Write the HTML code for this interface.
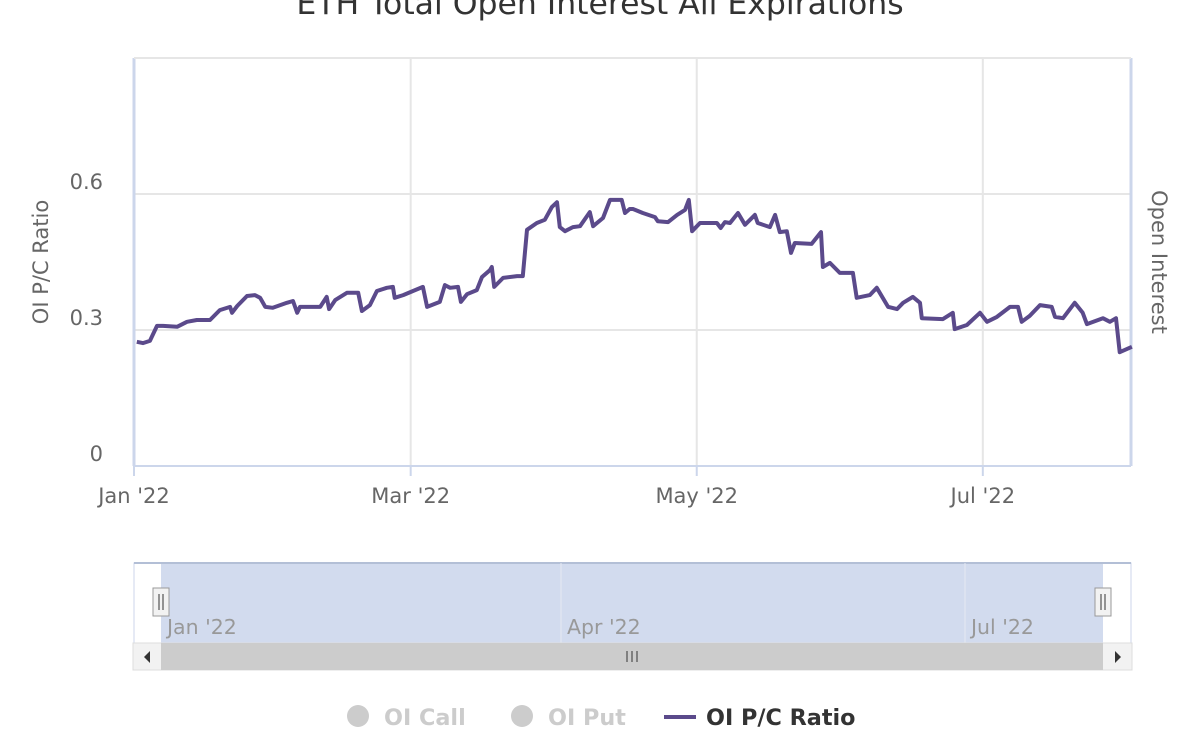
<!DOCTYPE html>
<html><head><meta charset="utf-8"><style>
body{margin:0;background:#fff;font-family:"DejaVu Sans","Liberation Sans",sans-serif;}
svg{display:block}
text{font-family:"DejaVu Sans","Liberation Sans",sans-serif;}
</style></head><body>
<svg width="1200" height="740" viewBox="0 0 1200 740">
<text x="600" y="14" text-anchor="middle" font-size="31.5" fill="#333">ETH Total Open Interest All Expirations</text>
<g id="grid"></g>
<g id="series"></g>
<text transform="translate(48,262) rotate(-90)" text-anchor="middle" font-size="21" fill="#666">OI P/C Ratio</text>
<text transform="translate(1152,262) rotate(90)" text-anchor="middle" font-size="21" fill="#666">Open Interest</text>
<g>
<rect x="134" y="563" width="997" height="80" fill="#fff" stroke="#ccd6eb"/>
<rect x="161" y="563" width="942" height="80" fill="#d2dbee"/>
<line x1="134" y1="563" x2="1131" y2="563" stroke="#b3bfd6" stroke-width="2"/>
<line x1="561" y1="563" x2="561" y2="643" stroke="#e6eaf2"/>
<line x1="965" y1="563" x2="965" y2="643" stroke="#e6eaf2"/>
<text x="167" y="634" font-size="20.5" fill="#999">Jan '22</text>
<text x="567" y="634" font-size="20.5" fill="#999">Apr '22</text>
<text x="971" y="634" font-size="20.5" fill="#999">Jul '22</text>
<g><rect x="153" y="588" width="16" height="28" fill="#f2f2f2" stroke="#999"/><line x1="159" y1="594" x2="159" y2="610" stroke="#333"/><line x1="163" y1="594" x2="163" y2="610" stroke="#333"/></g>
<g><rect x="1095" y="588" width="16" height="28" fill="#f2f2f2" stroke="#999"/><line x1="1101" y1="594" x2="1101" y2="610" stroke="#333"/><line x1="1105" y1="594" x2="1105" y2="610" stroke="#333"/></g>
</g>
<g>
<rect x="133" y="643" width="999" height="27" fill="#f2f2f2" stroke="#ddd"/>
<rect x="161" y="643" width="942" height="27" fill="#cccccc"/>
<path d="M150 651 L150 663 L144 657 Z" fill="#333"/>
<path d="M1115 651 L1115 663 L1121 657 Z" fill="#333"/>
<line x1="627" y1="651" x2="627" y2="662" stroke="#333"/><line x1="632" y1="651" x2="632" y2="662" stroke="#333"/><line x1="637" y1="651" x2="637" y2="662" stroke="#333"/>
</g>
<g>
<g><circle cx="358" cy="716" r="11" fill="#ccc"/><text x="384" y="725" font-size="22.3" font-weight="bold" fill="#ccc">OI Call</text></g>
<g><circle cx="522" cy="716" r="11" fill="#ccc"/><text x="548" y="725" font-size="22.3" font-weight="bold" fill="#ccc">OI Put</text></g>
<g><line x1="664" y1="717" x2="696" y2="717" stroke="#5b4a8b" stroke-width="4"/><text x="706" y="725" font-size="22.3" font-weight="bold" fill="#333">OI P/C Ratio</text></g>
</g>
</svg>
<script>
const days=[0.6,1.9,3.4,4.9,6.2,9.2,11.3,13.4,16.2,18.3,20.5,20.9,22.0,24.1,25.8,26.9,28.0,29.6,32.6,33.9,34.8,35.4,39.7,41.1,41.6,42.9,45.4,47.8,48.6,50.3,51.8,53.9,55.2,55.6,57.4,59.5,61.6,62.5,65.2,66.3,67.4,69.1,69.7,71.0,73.1,74.2,75.9,76.3,76.8,78.7,81.7,82.9,83.8,85.9,87.6,89.1,90.2,90.8,91.9,93.6,95.1,97.2,97.9,100.0,101.5,104.0,104.7,105.7,106.4,108.5,111.1,111.7,113.9,115.8,117.5,118.3,119.0,120.7,124.3,125.1,126.0,127.1,128.8,130.3,132.4,133.0,135.6,136.7,137.7,139.2,140.1,140.9,144.5,146.5,146.9,148.4,150.5,153.3,154.1,156.9,158.4,160.8,162.7,164.0,166.1,167.6,168.0,172.5,174.6,175.0,177.6,180.4,181.9,184.0,186.8,188.5,189.3,191.0,193.2,195.7,196.4,198.1,200.6,202.3,203.2,206.6,208.1,209.4,210.2,212.8];
const ratios=[.274,.271,.276,.309,.309,.307,.318,.322,.322,.344,.351,.338,.353,.375,.377,.371,.351,.349,.360,.364,.338,.351,.351,.373,.346,.366,.382,.382,.342,.355,.386,.393,.395,.371,.377,.386,.395,.351,.362,.399,.393,.395,.362,.379,.388,.417,.432,.439,.395,.415,.419,.419,.521,.536,.543,.571,.582,.527,.518,.527,.529,.560,.529,.547,.587,.587,.558,.567,.567,.558,.549,.540,.538,.554,.565,.587,.518,.536,.536,.525,.538,.536,.558,.532,.554,.536,.527,.554,.516,.518,.470,.492,.490,.516,.439,.448,.426,.426,.371,.377,.393,.351,.346,.360,.373,.360,.326,.324,.338,.302,.311,.338,.318,.329,.351,.351,.318,.331,.355,.351,.329,.326,.360,.338,.313,.326,.318,.326,.251,.263];
const yTicks=[0,0.3,0.6];
const yTickLabels=["0","0.3","0.6"];
const xTicks=[0,59,120,181];
const xTickLabels=["Jan '22","Mar '22","May '22","Jul '22"];
const L=134,R=1131,T=58,B=466,DMAX=212.6,VMAX=0.9;
const sx=d=>L+d/DMAX*(R-L);
const sy=v=>B-v/VMAX*(B-T);
const NS="http://www.w3.org/2000/svg";
const g=document.getElementById('grid');
function mk(tag,attrs,parent){const e=document.createElementNS(NS,tag);for(const k in attrs)e.setAttribute(k,attrs[k]);parent.appendChild(e);return e;}
mk('rect',{x:L,y:T,width:R-L,height:B-T,fill:'#fff'},g);
yTicks.forEach((v,i)=>{
 if(v>0){const l=mk('line',{x1:L,x2:R,y1:sy(v),y2:sy(v),stroke:'#e6e6e6','stroke-width':2},g);
 
 }
 const t=mk('text',{x:103,y:sy(v)-5,'text-anchor':'end','font-size':21,fill:'#666'},g);
 t.textContent=yTickLabels[i];
 
 
});
xTicks.forEach((d,i)=>{
 const l=mk('line',{x1:sx(d),x2:sx(d),y1:T,y2:B,stroke:'#e6e6e6','stroke-width':2},g);
 
 
 mk('line',{x1:sx(d),x2:sx(d),y1:B,y2:B+10,stroke:'#ccd6eb','stroke-width':2},g);
 const t=mk('text',{x:sx(d),y:503,'text-anchor':'middle','font-size':21,fill:'#666'},g);
 t.textContent=xTickLabels[i];
 
 
});
mk('line',{x1:L,x2:R,y1:B,y2:B,stroke:'#ccd6eb','stroke-width':2},g);
mk('line',{x1:L,x2:L,y1:T,y2:B,stroke:'#ccd6eb','stroke-width':3},g);
mk('line',{x1:R,x2:R,y1:T,y2:B,stroke:'#ccd6eb','stroke-width':3},g);
mk('line',{x1:L,x2:R,y1:T,y2:T,stroke:'#e6e6e6','stroke-width':2},g);
const s=document.getElementById('series');
const p=mk('path',{d:days.map((d,i)=>(i?'L':'M')+sx(d).toFixed(1)+' '+sy(ratios[i]).toFixed(1)).join(' '),fill:'none',stroke:'#5b4a8b','stroke-width':4,'stroke-linejoin':'round'},s);


</script>
</body></html>
